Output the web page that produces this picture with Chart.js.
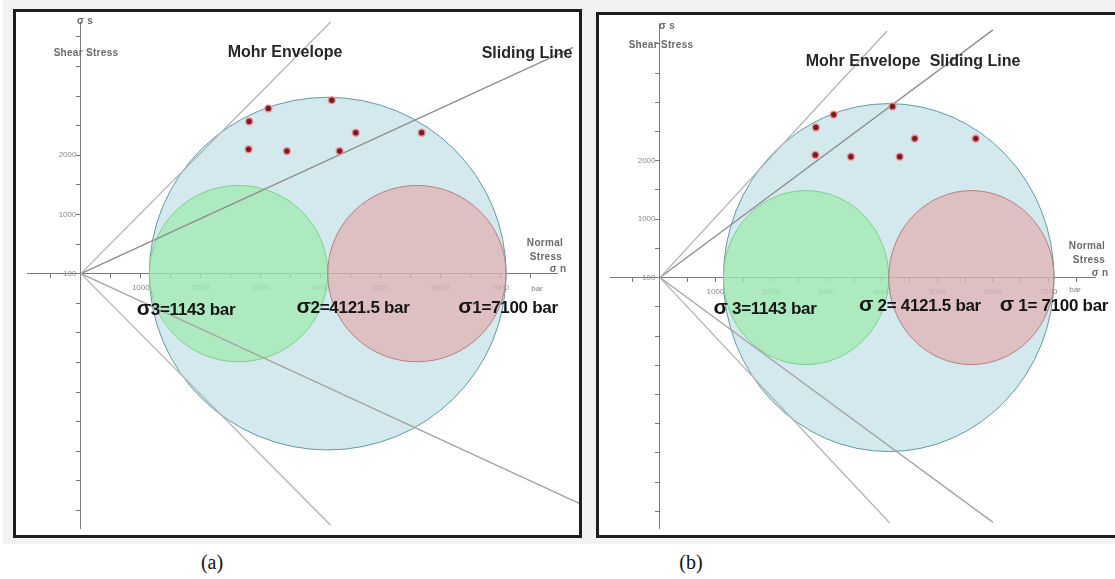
<!DOCTYPE html>
<html>
<head>
<meta charset="utf-8">
<script src="https://cdn.jsdelivr.net/npm/chart.js@4.4.1/dist/chart.umd.min.js"></script>
<style>
  body { margin: 0; width: 1115px; height: 579px; background: #fff; position: relative; overflow: hidden;
         font-family: "Liberation Sans", Arial, sans-serif; }
  .shade { position: absolute; left: 3px; top: 0; width: 1112px; height: 544px; background: #f2f2f2; }
  .frame { position: absolute; box-sizing: border-box; border: 3px solid #1e1e1e; background: #fff; }
  canvas { position: absolute; }
  .t { position: absolute; white-space: nowrap; line-height: 1; transform: translate(-50%, -50%); }
  .big { font-weight: bold; font-size: 16px; color: #262626; }
  .axisname { font-weight: bold; font-size: 10px; color: #6a6a6a; letter-spacing: 0.3px; }
  .sig { font-weight: bold; font-size: 17px; color: #151515; letter-spacing: -0.3px; }
  .sig b { font-size: 21px; }
  .unit { font-size: 8px; color: #808080; }
  .cap { font-family: "Liberation Serif", "Times New Roman", serif; font-size: 20px; color: #111; }
</style>
</head>
<body>
<div class="shade"></div>
<div class="frame" style="left:13px; top:9px; width:569px; height:529px;"></div>
<div class="frame" style="left:596px; top:12px; width:530px; height:526px;"></div>
<canvas id="chartA" width="563" height="523" style="left:16px; top:12px;"></canvas>
<canvas id="chartB" width="516" height="520" style="left:599px; top:15px;"></canvas>

<!-- panel (a) texts -->
<div class="t axisname" style="left:85px; top:21px;">σ s</div>
<div class="t axisname" style="left:86px; top:53px;">Shear Stress</div>
<div class="t big" style="left:285px; top:52px;">Mohr Envelope</div>
<div class="t big" style="left:527px; top:53px;">Sliding Line</div>
<div class="t axisname" style="left:545px; top:243px;">Normal</div>
<div class="t axisname" style="left:546px; top:257px;">Stress</div>
<div class="t axisname" style="left:558px; top:269px;">σ n</div>
<div class="t unit" style="left:537px; top:289px;">bar</div>
<div class="t sig" id="a3" style="left:186px; top:307px;"></div>
<div class="t sig" id="a2" style="left:353px; top:305px;"></div>
<div class="t sig" id="a1" style="left:508px; top:305px;"></div>
<div class="t cap" style="left:212px; top:562px;">(a)</div>

<!-- panel (b) texts -->
<div class="t axisname" style="left:667px; top:26px;">σ s</div>
<div class="t axisname" style="left:661px; top:45px;">Shear Stress</div>
<div class="t big" style="left:863px; top:61px;">Mohr Envelope</div>
<div class="t big" style="left:975px; top:61px;">Sliding Line</div>
<div class="t axisname" style="left:1087px; top:246px;">Normal</div>
<div class="t axisname" style="left:1089px; top:260px;">Stress</div>
<div class="t axisname" style="left:1100px; top:273px;">σ n</div>
<div class="t unit" style="left:1075px; top:290px;">bar</div>
<div class="t sig" id="b3" style="left:765px; top:306px;"></div>
<div class="t sig" id="b2" style="left:920px; top:303px;"></div>
<div class="t sig" id="b1" style="left:1054px; top:303px;"></div>
<div class="t cap" style="left:691px; top:562px;">(b)</div>

<script>
// principal stresses (bar): sigma3, sigma2, sigma1
const sigmas = [1143, 4121.5, 7100];
const sigmaNames = ['3', '2', '1'];
const sigmaTextsA = ['=1143 bar', '=4121.5 bar', '=7100 bar'];
const sigmaTextsB = ['=1143 bar', '= 4121.5 bar', '= 7100 bar'];

// red sample points (normal stress, shear stress)
const failX = [2810, 3130, 4190, 2800, 3440, 4320, 4590, 5690];
const failY = [2570, 2790, 2930, 2100, 2070, 2070, 2380, 2380];

// line end points, all lines start at the origin
const envelopeA = [[4170, 4250], [4170, -4250]];
const slidingA = [[8220, 3820], [8320, -3880]];
const envelopeB = [[4090, 4220], [4140, -4200]];
const slidingB = [[6000, 4240], [6000, -4190]];

// axis ticks (every 500 bar) and their labels
const tickStep = 500;
const xTickValues = [1000, 2000, 3000, 4000, 5000, 6000, 7000];
const yTickValues = [0, 1000, 2000];
const yTickTexts = ['100', '1000', '2000'];

// fill sigma labels
['a', 'b'].forEach(p => {
    const texts = p === 'a' ? sigmaTextsA : sigmaTextsB;
    sigmaNames.forEach((n, i) => {
        document.getElementById(p + n).innerHTML = '<b>σ</b>' + (p === 'b' ? ' ' : '') + n + texts[i];
    });
});

// circles drawn from the principal stresses through the chart scales
const mohrCircles = {
    id: 'mohrCircles',
    beforeDatasetsDraw(chart) {
        const { ctx, scales: { x, y } } = chart;
        const circles = [
            [sigmas[0], sigmas[2], 'rgba(170,212,220,0.5)', '#5f9aa3'],
            [sigmas[0], sigmas[1], 'rgba(150,235,165,0.62)', '#7ccf8c'],
            [sigmas[1], sigmas[2], 'rgba(228,165,165,0.6)', '#b47f7f']
        ];
        ctx.save();
        circles.forEach(c => {
            const mid = (c[0] + c[1]) / 2;
            const r = (c[1] - c[0]) / 2;
            const cx = x.getPixelForValue(mid);
            const cy = y.getPixelForValue(0);
            const rx = Math.abs(x.getPixelForValue(mid + r) - cx);
            const ry = Math.abs(y.getPixelForValue(r) - cy);
            ctx.beginPath();
            ctx.ellipse(cx, cy, rx, ry, 0, 0, Math.PI * 2);
            ctx.fillStyle = c[2];
            ctx.fill();
            ctx.lineWidth = 1;
            ctx.strokeStyle = c[3];
            ctx.stroke();
        });
        ctx.restore();
    }
};

// ticks on whole multiples of tickStep inside the axis range
function stepTicks(s) {
    const list = [];
    for (let v = Math.ceil(s.min / tickStep) * tickStep; v <= s.max; v += tickStep) {
        list.push({ value: v });
    }
    s.ticks = list;
}

function lineSet(end, color) {
    return {
        data: [{ x: 0, y: 0 }, { x: end[0], y: end[1] }],
        showLine: true,
        borderColor: color,
        borderWidth: 1.3,
        pointRadius: 0,
        clip: false,
        order: 1
    };
}

function pointSet() {
    return {
        data: failX.map((v, i) => ({ x: v, y: failY[i] })),
        pointRadius: 3.4,
        backgroundColor: '#7a1a26',
        borderColor: 'rgba(240,145,145,0.85)',
        borderWidth: 1.6,
        order: 0
    };
}

function makeChart(id, envelope, sliding, range, padding) {
    new Chart(document.getElementById(id), {
        type: 'scatter',
        data: {
            datasets: [
                lineSet(envelope[0], '#b4b4b4'),
                lineSet(envelope[1], '#b4b4b4'),
                lineSet(sliding[0], '#8e8e8e'),
                lineSet(sliding[1], '#a4a4a4'),
                pointSet()
            ]
        },
        options: {
            responsive: false,
            animation: false,
            devicePixelRatio: 1,
            layout: { padding: padding },
            plugins: { legend: { display: false }, tooltip: { enabled: false } },
            scales: {
                x: {
                    type: 'linear',
                    min: range[0],
                    max: range[1],
                    position: { y: 0 },
                    afterFit: s => { s.height = 0; },
                    afterBuildTicks: stepTicks,
                    ticks: {
                        autoSkip: false,
                        maxRotation: 0,
                        padding: 5,
                        color: '#8a8a8a',
                        font: { size: 8, family: 'Liberation Sans' },
                        callback: v => xTickValues.includes(v) ? String(v) : ''
                    },
                    grid: { drawOnChartArea: false, tickLength: 4, color: '#777' },
                    border: { color: '#7a7a7a', width: 1 }
                },
                y: {
                    type: 'linear',
                    min: range[2],
                    max: range[3],
                    position: { x: 0 },
                    afterFit: s => { s.width = 0; },
                    afterBuildTicks: stepTicks,
                    ticks: {
                        autoSkip: false,
                        padding: 2,
                        color: '#8a8a8a',
                        font: { size: 8, family: 'Liberation Sans' },
                        // trailing spaces keep the right-aligned label clear of the axis
                        callback: v => {
                            const i = yTickValues.indexOf(v);
                            return i >= 0 ? yTickTexts[i] + '\u00a0\u00a0' : '';
                        }
                    },
                    grid: { drawOnChartArea: false, tickLength: 4, color: '#777' },
                    border: { color: '#7a7a7a', width: 1 }
                }
            }
        },
        plugins: [mohrCircles]
    });
}

makeChart('chartA', envelopeA, slidingA, [-900, 7950, -4300, 4250], { left: 11, right: 22, top: 10, bottom: 0 });
makeChart('chartB', envelopeB, slidingB, [-900, 7838, -4290, 4358], { left: 11, right: 20, top: 8, bottom: 0 });
</script>
</body>
</html>
